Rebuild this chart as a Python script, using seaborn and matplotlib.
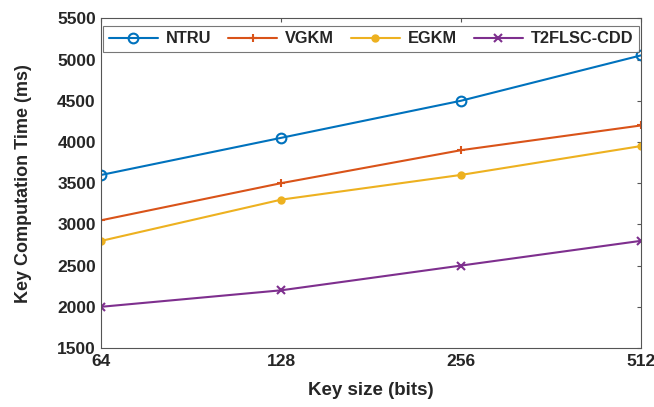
import pandas as pd
import numpy as np

import matplotlib.pyplot as plt
import seaborn as sns

key_sizes = [64, 128, 256, 512]
ntru = [3600, 4050, 4500, 5050]
vgkm = [3050, 3500, 3900, 4200]
egkm = [2800, 3300, 3600, 3950]
t2flsc = [2000, 2200, 2500, 2800]

names = ['NTRU', 'VGKM', 'EGKM', 'T2FLSC-CDD']
colors = ['#0072BD', '#D95319', '#EDB120', '#7E2F8E']
markers = ['o', '+', '.', 'x']

sns.set_style('white')
plt.rcParams['font.family'] = ['Liberation Sans', 'DejaVu Sans']
plt.rcParams['font.weight'] = 'bold'

fig = plt.figure(figsize=(6.54, 4.07), dpi=100)
ax = fig.add_axes([0.155, 0.145, 0.825, 0.81])

# x axis is log2 so the key sizes are evenly spaced
for name, vals, c, m in zip(names, [ntru, vgkm, egkm, t2flsc], colors, markers):
    df = pd.DataFrame({'x': np.log2(key_sizes), 'y': vals})
    sns.lineplot(data=df, x='x', y='y', ax=ax, color=c, marker=m, label=name,
                 linewidth=1.5, markersize=7 if m == 'o' else (9 if m == '.' else 6),
                 markerfacecolor='none' if m == 'o' else c,
                 markeredgecolor=c, markeredgewidth=1.5)

ax.set_xlim(6, 9)
ax.set_xticks(np.log2(key_sizes))
ax.set_xticklabels([str(k) for k in key_sizes])
ax.set_ylim(1500, 5500)
ax.set_yticks(range(1500, 5501, 500))
ax.tick_params(labelsize=12.5, direction='in', length=3, color='#555555',
               top=True, right=True, pad=4)
for s in ax.spines.values():
    s.set_color('#555555')
    s.set_linewidth(0.8)

_ = ax.set_xlabel('Key size (bits)', fontsize=13.5, fontweight='bold', labelpad=10)
_ = ax.set_ylabel('Key Computation Time (ms)', fontsize=13, fontweight='bold', labelpad=18)

leg = ax.legend(loc='upper center', ncol=4, fontsize=11.8, frameon=True, fancybox=False,
                edgecolor='#555555', handlelength=3, columnspacing=1.0, handletextpad=0.5,
                borderaxespad=0.45, borderpad=0.35, bbox_to_anchor=(0.5, 1.0))
leg.get_frame().set_linewidth(0.8)

plt.savefig('out.png', dpi=100)
